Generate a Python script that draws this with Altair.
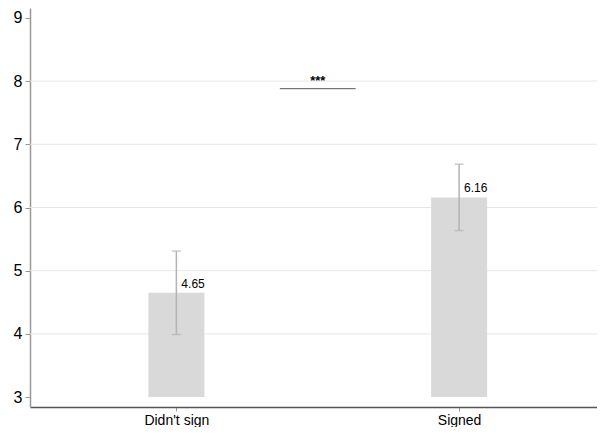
import altair as alt
import pandas as pd

groups = ["Didn't sign", "Signed"]
xpos = [1, 2]
means = [4.65, 6.16]
ci_low = [3.99, 5.635]
ci_high = [5.31, 6.685]
labels = ["4.65", "6.16"]
grid_vals = [4, 5, 6, 7, 8]
y_ticks = [3, 4, 5, 6, 7, 8, 9]
sig_x = [1.366, 1.634]
sig_y = 7.88
sig_text = "***"
base = 3

df = pd.DataFrame({"x": xpos, "group": groups, "mean": means, "lo": ci_low,
                   "hi": ci_high, "label": labels, "base": [base, base]})
grid_df = pd.DataFrame({"y": grid_vals})
sig_df = pd.DataFrame({"x1": [sig_x[0]], "x2": [sig_x[1]], "y": [sig_y],
                       "xm": [(sig_x[0] + sig_x[1]) / 2], "t": [sig_text]})

FONT = "Liberation Sans"
xs = alt.Scale(domain=[0.5, 2.47], nice=False, zero=False)
ys = alt.Scale(domain=[2.843, 9.157], nice=False, zero=False)

label_expr = "datum.value == 1 ? \"Didn't sign\" : 'Signed'"

grid = alt.Chart(grid_df).mark_rule(color="#e6e6e6", strokeWidth=1).encode(
    y=alt.Y("y:Q", scale=ys),
)

bars = alt.Chart(df).mark_bar(color="#d9d9d9", size=56).encode(
    x=alt.X("x:Q", scale=xs,
            axis=alt.Axis(values=xpos, labelExpr=label_expr, title=None, grid=False,
                          domainColor="#555555", tickColor="#999999", tickSize=4,
                          labelFont=FONT, labelFontSize=14, labelColor="#000000",
                          labelPadding=2, domainWidth=1.5)),
    y=alt.Y("mean:Q", scale=ys,
            axis=alt.Axis(values=y_ticks, format="d", title=None, grid=False,
                          domainColor="#999999", tickColor="#999999", tickSize=5,
                          labelFont=FONT, labelFontSize=16, labelColor="#000000",
                          labelPadding=3, domainWidth=1.5)),
    y2="base:Q",
)

err = alt.Chart(df).mark_rule(color="#b3b3b3", strokeWidth=1.5).encode(
    x=alt.X("x:Q", scale=xs), y=alt.Y("lo:Q", scale=ys), y2="hi:Q")
cap_lo = alt.Chart(df).mark_tick(color="#b3b3b3", orient="horizontal", size=9, thickness=1.5).encode(
    x=alt.X("x:Q", scale=xs), y=alt.Y("lo:Q", scale=ys))
cap_hi = alt.Chart(df).mark_tick(color="#b3b3b3", orient="horizontal", size=9, thickness=1.5).encode(
    x=alt.X("x:Q", scale=xs), y=alt.Y("hi:Q", scale=ys))

txt = alt.Chart(df).mark_text(align="left", baseline="bottom", dx=5, dy=-2,
                              font=FONT, fontSize=12, color="#000000").encode(
    x=alt.X("x:Q", scale=xs), y=alt.Y("mean:Q", scale=ys), text="label:N")

sig_line = alt.Chart(sig_df).mark_rule(color="#555555", strokeWidth=1).encode(
    x=alt.X("x1:Q", scale=xs), x2="x2:Q", y=alt.Y("y:Q", scale=ys))
sig_txt = alt.Chart(sig_df).mark_text(align="center", baseline="bottom", dy=-1,
                                      font=FONT, fontSize=13, fontWeight="bold", color="#000000").encode(
    x=alt.X("xm:Q", scale=xs), y=alt.Y("y:Q", scale=ys), text="t:N")

chart = alt.layer(grid, bars, err, cap_lo, cap_hi, txt, sig_line, sig_txt).properties(
    width=567, height=399,
    autosize=alt.AutoSizeParams(type="none"),
    padding={"left": 22, "top": 0, "right": 0, "bottom": 20},
    background="white",
).configure_view(stroke=None)

chart.save("out.html", embed_options={"renderer": "svg", "actions": False})
